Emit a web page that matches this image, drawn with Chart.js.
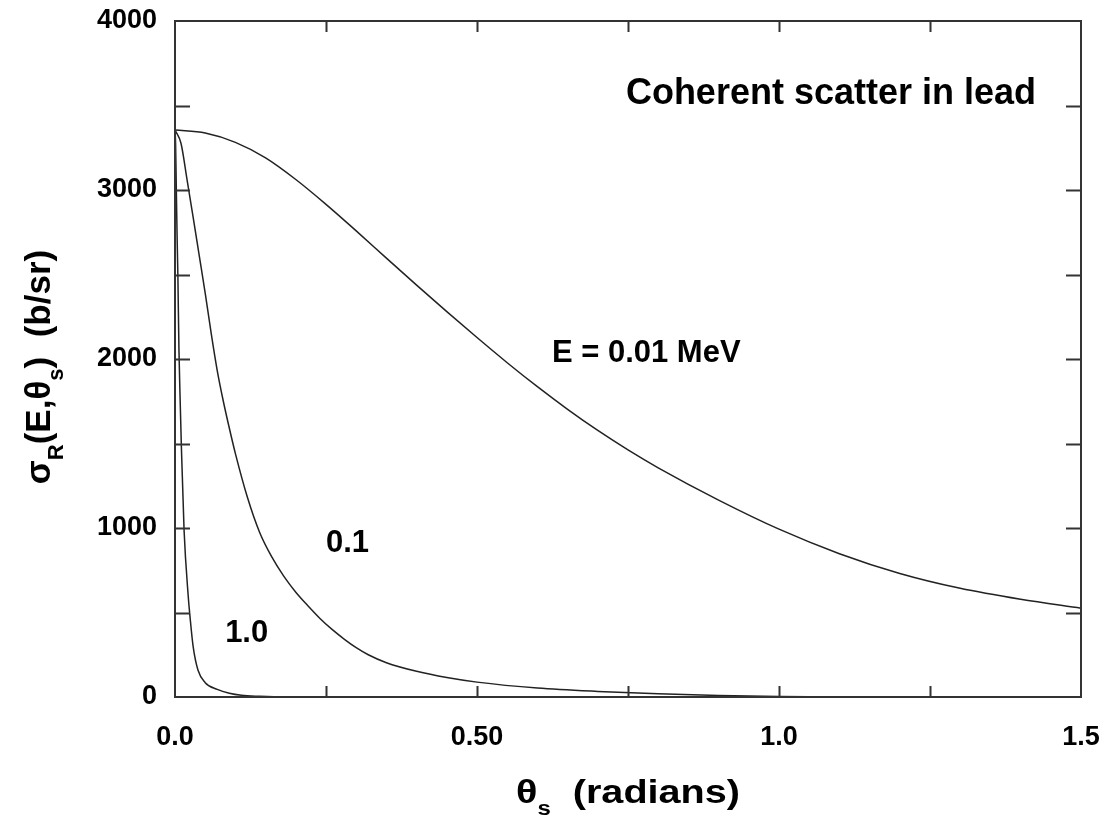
<!DOCTYPE html>
<html lang="en">
<head>
<meta charset="UTF-8">
<title>Coherent scatter in lead</title>
<script src="https://cdn.jsdelivr.net/npm/chart.js"></script>
<style>
  html, body { margin: 0; padding: 0; background: #fff; }
  #wrap { width: 1102px; height: 822px; }
</style>
</head>
<body>
<div id="wrap"><canvas id="chart" width="1102" height="822"></canvas></div>
<script>
// scattering angle (radians) and sigma_R (b/sr)
const thetaLow  = [0, 0.05, 0.1, 0.15, 0.2, 0.25, 0.3, 0.35, 0.4, 0.45, 0.5, 0.55, 0.6, 0.65, 0.7, 0.75, 0.8, 0.9, 1.0, 1.1, 1.2, 1.3, 1.4, 1.5];
const sigmaLow  = [3355, 3337, 3282, 3190, 3062, 2915, 2758, 2597, 2437, 2280, 2127, 1978, 1836, 1702, 1577, 1462, 1356, 1165, 993, 848, 731, 643, 578, 525];

const thetaMid  = [0, 0.01, 0.02, 0.03, 0.04, 0.05, 0.06, 0.07, 0.08, 0.09, 0.1, 0.12, 0.14, 0.16, 0.18, 0.2, 0.22, 0.24, 0.26, 0.28, 0.3, 0.32, 0.35, 0.4, 0.45, 0.5, 0.6, 0.7, 0.8, 0.9, 1.0, 1.1, 1.5];
const sigmaMid  = [3355, 3275, 3060, 2840, 2615, 2390, 2150, 1930, 1750, 1590, 1440, 1180, 975, 830, 715, 620, 540, 465, 400, 343, 292, 250, 203, 152, 115, 88, 53, 33, 19, 9, 3, 0, 0];

const thetaHigh = [0, 0.001, 0.0022, 0.0035, 0.0048, 0.0065, 0.0085, 0.0105, 0.015, 0.022, 0.025, 0.03, 0.038, 0.05, 0.07, 0.09, 0.11, 0.14, 0.18, 1.5];
const sigmaHigh = [3355, 3270, 3000, 2720, 2485, 2060, 1760, 1490, 988, 592, 470, 300, 160, 85, 45, 22, 10, 4, 0, 0];

const energies = ['0.01', '0.1', '1.0'];

const xTickLabels = ['0.0', '0.50', '1.0', '1.5'];
const xMarks = [0.25, 0.5, 0.75, 1.0, 1.25];
const yMarks = [500, 1000, 1500, 2000, 2500, 3000, 3500];

const FONT = "'Liberation Sans', Arial, sans-serif";

function pts(xs, ys) {
    return xs.map((x, i) => ({ x: x, y: ys[i] }));
}

// text placed in data coordinates
const notes = [
    { text: 'Coherent scatter in lead', x: 1.4255, y: 3506, size: 36, align: 'right' },
    { text: 'E = ' + energies[0] + ' MeV', x: 0.624, y: 1982, size: 31, align: 'left' },
    { text: energies[1], x: 0.25, y: 858, size: 31, align: 'left' },
    { text: energies[2], x: 0.083, y: 325, size: 31, align: 'left' }
];

// draws text with subscripts centred on the origin, baseline at 0
function drawRich(ctx, parts, size) {
    const subSize = Math.round(size * 0.62);
    const widths = parts.map(p => {
        ctx.font = 'bold ' + (p.sub ? subSize : size) + 'px ' + FONT;
        return ctx.measureText(p.t).width;
    });
    let x = -widths.reduce((a, b) => a + b, 0) / 2;
    parts.forEach((p, i) => {
        ctx.font = 'bold ' + (p.sub ? subSize : size) + 'px ' + FONT;
        ctx.fillText(p.t, x, p.sub ? size * 0.36 : 0);
        x += widths[i];
    });
}

const framePlugin = {
    id: 'frame',
    afterDraw(chart) {
        const ctx = chart.ctx;
        const a = chart.chartArea;
        const xs = chart.scales.x, ys = chart.scales.y;
        ctx.save();
        ctx.strokeStyle = '#333';
        ctx.lineWidth = 2;
        ctx.strokeRect(a.left, a.top, a.right - a.left, a.bottom - a.top);

        // inward tick marks on all four sides
        ctx.beginPath();
        xMarks.forEach(v => {
            const px = Math.round(xs.getPixelForValue(v)) + 0.5;
            ctx.moveTo(px, a.bottom); ctx.lineTo(px, a.bottom - 11);
            ctx.moveTo(px, a.top); ctx.lineTo(px, a.top + 11);
        });
        yMarks.forEach(v => {
            const py = Math.round(ys.getPixelForValue(v)) + 0.5;
            ctx.moveTo(a.left, py); ctx.lineTo(a.left + 15, py);
            ctx.moveTo(a.right, py); ctx.lineTo(a.right - 15, py);
        });
        ctx.stroke();

        ctx.fillStyle = '#000';
        ctx.textBaseline = 'alphabetic';
        notes.forEach(n => {
            ctx.font = 'bold ' + n.size + 'px ' + FONT;
            ctx.textAlign = n.align;
            ctx.fillText(n.text, xs.getPixelForValue(n.x), ys.getPixelForValue(n.y));
        });

        // axis titles (the x one is set wide, as in the reference)
        ctx.textAlign = 'left';
        ctx.save();
        ctx.translate((a.left + a.right) / 2, a.bottom + 106);
        ctx.scale(1.2, 1);
        drawRich(ctx, [{ t: '\u03b8' }, { t: 's', sub: true }, { t: '  (radians)' }], 33);
        ctx.restore();

        ctx.save();
        ctx.translate(50, (a.top + a.bottom) / 2 + 8);
        ctx.rotate(-Math.PI / 2);
        drawRich(ctx, [{ t: '\u03c3' }, { t: 'R', sub: true }, { t: '(E,\u03b8' }, { t: 's', sub: true }, { t: ')  (b/sr)' }], 35);
        ctx.restore();
        ctx.restore();
    }
};

const lineStyle = {
    borderColor: '#222',
    borderWidth: 1.5,
    pointRadius: 0,
    fill: false,
    cubicInterpolationMode: 'monotone'
};

// keep the plot box where the reference has it, whatever the labels overhang
function noPad(s) {
    s.paddingLeft = 0; s.paddingRight = 0; s.paddingTop = 0; s.paddingBottom = 0;
}

new Chart(document.getElementById('chart'), {
    type: 'line',
    data: {
        datasets: [
            Object.assign({ label: energies[0] + ' MeV', data: pts(thetaLow, sigmaLow) }, lineStyle),
            Object.assign({ label: energies[1] + ' MeV', data: pts(thetaMid, sigmaMid) }, lineStyle),
            Object.assign({ label: energies[2] + ' MeV', data: pts(thetaHigh, sigmaHigh) }, lineStyle)
        ]
    },
    options: {
        responsive: false,
        animation: false,
        layout: { padding: { top: 21, right: 21, left: 0, bottom: 0 } },
        plugins: {
            legend: { display: false },
            tooltip: { enabled: false }
        },
        scales: {
            x: {
                type: 'linear',
                min: 0,
                max: 1.5,
                afterFit: s => { s.height = 125; noPad(s); },
                grid: { display: false, drawTicks: false },
                border: { display: false },
                ticks: {
                    stepSize: 0.5,
                    padding: 24,
                    color: '#000',
                    maxRotation: 0,
                    font: { family: FONT, size: 27, weight: 'bold' },
                    callback: (v, i) => xTickLabels[i]
                }
            },
            y: {
                min: 0,
                max: 4000,
                afterFit: s => { s.width = 175; noPad(s); },
                grid: { display: false, drawTicks: false },
                border: { display: false },
                ticks: {
                    stepSize: 1000,
                    padding: 18,
                    color: '#000',
                    font: { family: FONT, size: 27, weight: 'bold' },
                    callback: v => String(v)
                }
            }
        }
    },
    plugins: [framePlugin]
});
</script>
</body>
</html>
